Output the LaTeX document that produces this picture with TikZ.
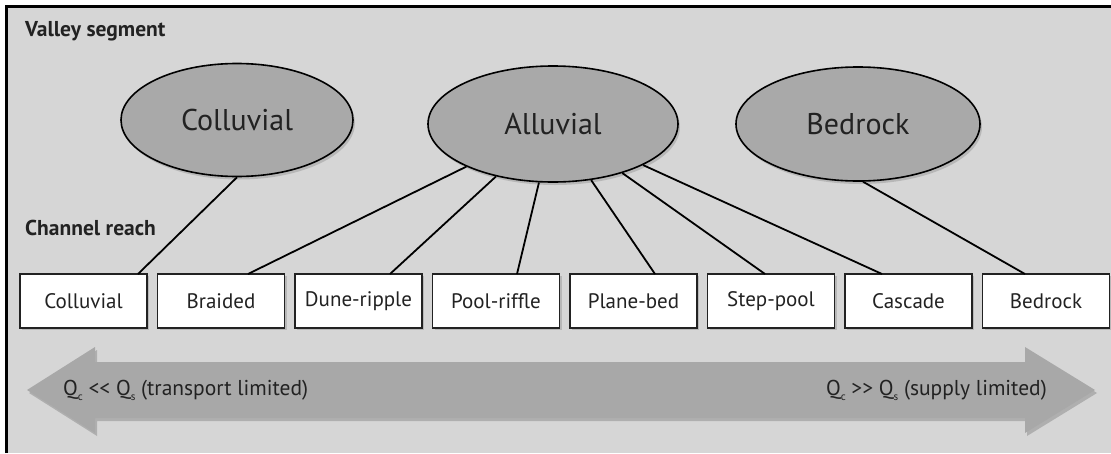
\documentclass[tikz,border=0pt]{standalone}
\usepackage{fontspec}
\setmainfont{PT Sans}
\usetikzlibrary{shadows,calc,shapes.geometric}
\definecolor{bggray}{HTML}{D6D6D6}
\definecolor{ellgray}{HTML}{A9A9A9}
\definecolor{arrgray}{HTML}{A8A8A8}
\definecolor{ink}{HTML}{222222}
\newcommand{\qsub}[1]{\raisebox{-0.45ex}{\fontsize{11}{11}\selectfont #1}}
\tikzset{
  ell/.style={ellipse, draw=black, line width=1.6pt, fill=ellgray, inner sep=0pt,
    font=\fontsize{30}{32}\selectfont, text=ink,
    drop shadow={opacity=0.35, shadow xshift=2pt, shadow yshift=-3pt}},
  reach/.style={rectangle, draw=ink, line width=1.2pt, fill=white, inner sep=0pt,
    minimum width=127pt, minimum height=54pt, font=\fontsize{21}{23}\selectfont, text=ink,
    drop shadow={opacity=0.35, shadow xshift=2pt, shadow yshift=-2pt}},
  heading/.style={anchor=base west, font=\bfseries\fontsize{21.5}{23}\selectfont, text=ink, inner sep=0pt},
  link/.style={draw=black, line width=1.8pt},
  qlabel/.style={font=\fontsize{21.5}{24}\selectfont, text=ink, inner sep=0pt}
}
\begin{document}
\begin{tikzpicture}[x=1pt,y=-1pt]
\useasboundingbox (0,0) rectangle (1111,453);
\fill[white] (0,0) rectangle (1111,453);
\fill[bggray] (6,5) rectangle (1111,453);
\draw[line width=3pt] (6,453) -- (6,6) -- (1111,6);

\node[heading] (vs) at (25,36) {Valley segment};
\node[heading] (cr) at (25,235) {Channel reach};

\node[ell, minimum width=232pt, minimum height=113pt] (ecoll) at (237,120) {Colluvial};
\node[ell, minimum width=250pt, minimum height=116pt] (eallu) at (553,124) {Alluvial};
\node[ell, minimum width=244pt, minimum height=114pt] (ebed) at (858,124) {Bedrock};

\foreach \n/\t [count=\i from 0] in {b1/Colluvial,b2/Braided,b3/Dune-ripple,b4/Pool-riffle,b5/Plane-bed,b6/Step-pool,b7/Cascade,b8/Bedrock}{
  \node[reach] (\n) at ({83.5+137.5*\i},301) {\t};
}

\coordinate (t1) at (138,274);
\coordinate (t2) at (248,274);
\coordinate (t3) at (390,274);
\coordinate (t4) at (517,274);
\coordinate (t5) at (655,274);
\coordinate (t6) at (765,274);
\coordinate (t7) at (882,274);
\coordinate (t8) at (1025,274);

\draw[link] (ecoll.south) -- (t1);
\foreach \k in {2,...,7}{
  \draw[link] (eallu) -- (t\k);
}
\draw[link] (ebed.275) -- (t8);

\fill[arrgray, drop shadow={opacity=0.45, shadow xshift=2pt, shadow yshift=-3pt}]
  (27,390) -- (95,347) -- (95,362) -- (1025,362) -- (1025,347) -- (1095,390)
  -- (1025,433) -- (1025,418) -- (95,418) -- (95,433) -- cycle;

\node[qlabel, anchor=west] (ql) at (63,390) {Q\qsub{c} <{}< Q\qsub{s} (transport limited)};
\node[qlabel, anchor=east] (qr) at (1047,390) {Q\qsub{c} >{}> Q\qsub{s} (supply limited)};
\end{tikzpicture}
\end{document}
